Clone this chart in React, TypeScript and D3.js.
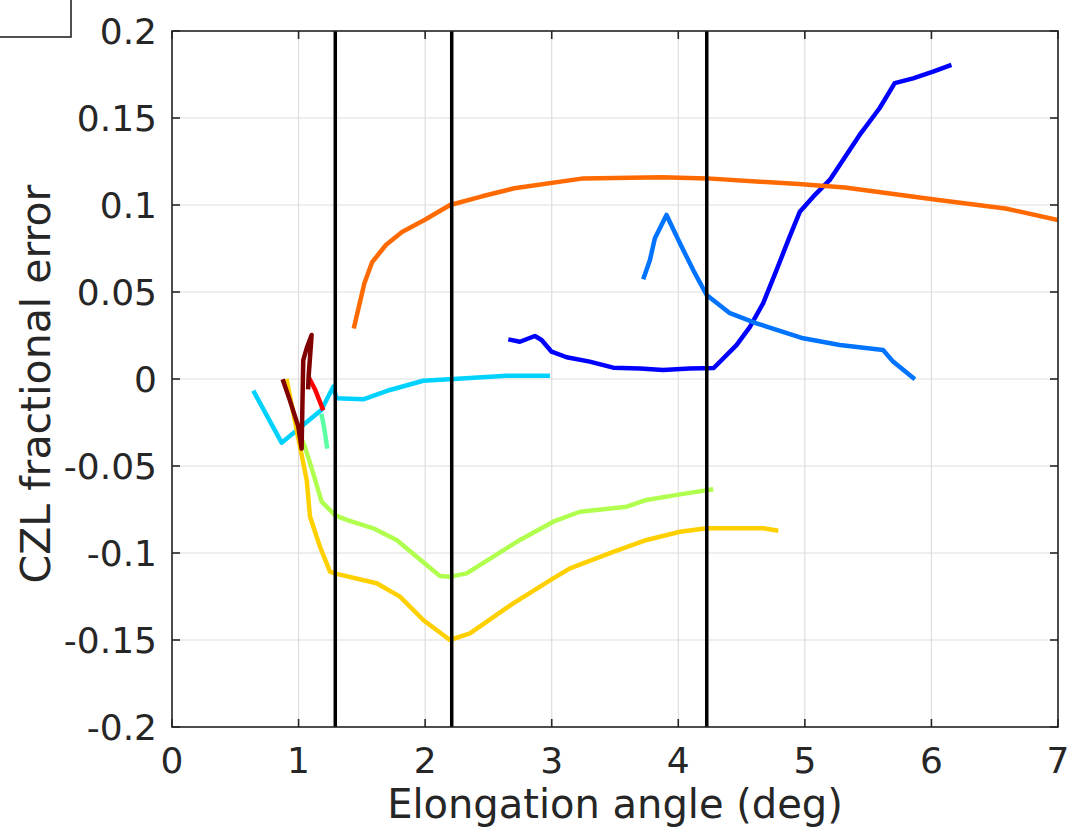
import React from "react";
import * as d3 from "d3";

// Axis setup
const xTicks = [0, 1, 2, 3, 4, 5, 6, 7];
const yTicks = [-0.2, -0.15, -0.1, -0.05, 0, 0.05, 0.1, 0.15, 0.2];
const yTickLabels = ["-0.2", "-0.15", "-0.1", "-0.05", "0", "0.05", "0.1", "0.15", "0.2"];
const xLabel = "Elongation angle (deg)";
const yLabel = "CZL fractional error";

// Reference elongation angles (vertical markers)
const markerAngles = [1.29, 2.21, 4.225];

// Series: [elongation angle, fractional error]
const blueSeries: [number, number][] = [
  [2.657, 0.0228], [2.749, 0.0214], [2.867, 0.0247], [2.92, 0.0224], [2.999, 0.0157],
  [3.118, 0.0125], [3.3, 0.01], [3.486, 0.0065], [3.697, 0.0061], [3.88, 0.0052],
  [4.09, 0.0061], [4.28, 0.0063], [4.46, 0.0195], [4.566, 0.03], [4.67, 0.0435],
  [4.776, 0.0626], [4.88, 0.0818], [4.96, 0.0961], [5.066, 0.1048], [5.197, 0.1144],
  [5.43, 0.14], [5.59, 0.1556], [5.71, 0.17], [5.855, 0.1728], [6.013, 0.1766],
  [6.158, 0.1805],
];
const azureSeries: [number, number][] = [
  [3.723, 0.0573], [3.776, 0.0684], [3.815, 0.0809], [3.907, 0.0943], [4.013, 0.078],
  [4.118, 0.0626], [4.224, 0.0483], [4.408, 0.0378], [4.618, 0.032], [4.987, 0.0234],
  [5.276, 0.0195], [5.618, 0.0167], [5.697, 0.01], [5.869, -0.0002],
];
const cyanSeries: [number, number][] = [
  [0.642, -0.0067], [0.866, -0.0366], [0.972, -0.0303], [1.18, -0.0178], [1.274, -0.0044],
  [1.3, -0.0111], [1.511, -0.0117], [1.722, -0.0063], [1.985, -0.001], [2.222, 0.0],
  [2.644, 0.0019], [2.986, 0.0019],
];
const aquaSeries: [number, number][] = [
  [1.18, -0.02], [1.2, -0.027], [1.227, -0.04],
];
const limeSeries: [number, number][] = [
  [1.0, -0.03], [1.05, -0.039], [1.116, -0.0542], [1.182, -0.0705], [1.287, -0.0782],
  [1.38, -0.081], [1.59, -0.0858], [1.775, -0.0925], [1.933, -0.1021], [2.117, -0.1132],
  [2.196, -0.1136], [2.328, -0.1117], [2.749, -0.0925], [3.012, -0.082], [3.223, -0.0763],
  [3.592, -0.0734], [3.75, -0.0695], [4.013, -0.0663], [4.276, -0.0634],
];
const goldSeries: [number, number][] = [
  [0.905, 0.0], [1.011, -0.0389], [1.064, -0.058], [1.09, -0.079], [1.169, -0.0964],
  [1.248, -0.1107], [1.301, -0.112], [1.617, -0.1174], [1.801, -0.1251], [1.985, -0.1385],
  [2.196, -0.15], [2.354, -0.1462], [2.696, -0.1289], [3.012, -0.1146], [3.144, -0.1088],
  [3.486, -0.0993], [3.75, -0.0925], [4.013, -0.0878], [4.224, -0.0858], [4.671, -0.0858],
  [4.79, -0.0872],
];
const orangeSeries: [number, number][] = [
  [1.436, 0.029], [1.52, 0.055], [1.58, 0.067], [1.69, 0.077], [1.817, 0.0845], [1.998, 0.0915],
  [2.197, 0.1], [2.45, 0.105], [2.705, 0.1096], [3.249, 0.1153], [3.866, 0.1159], [4.228, 0.1153],
  [4.95, 0.112], [5.316, 0.11], [6.04, 0.103], [6.585, 0.098], [7.0, 0.0914],
];
const redSeries: [number, number][] = [
  [1.08, 0.001], [1.13, -0.006], [1.195, -0.018],
];
const maroonSeries: [number, number][] = [
  [0.874, -0.0002], [0.93, -0.012], [0.998, -0.0274], [1.024, -0.04], [1.037, 0.0109],
  [1.064, 0.0176], [1.103, 0.0253], [1.08, 0.002], [1.075, -0.006],
];

const seriesList: { data: [number, number][]; color: string }[] = [
  { data: blueSeries, color: "#0000FF" },
  { data: azureSeries, color: "#0073FF" },
  { data: cyanSeries, color: "#00D2FF" },
  { data: aquaSeries, color: "#5CFFA3" },
  { data: limeSeries, color: "#B0FF4F" },
  { data: goldSeries, color: "#FFD000" },
  { data: orangeSeries, color: "#FF6A00" },
  { data: redSeries, color: "#FF0000" },
  { data: maroonSeries, color: "#800000" },
];

const W = 1070;
const H = 833;
const plot = { left: 172, right: 1058, top: 31, bottom: 727 };
const axisColor = "#262626";
const gridColor = "#DEDEDE";
const font = "'DejaVu Sans', sans-serif";

export default function App() {
  const x = d3.scaleLinear().domain([0, 7]).range([plot.left, plot.right]);
  const y = d3.scaleLinear().domain([-0.2, 0.2]).range([plot.bottom, plot.top]);
  const line = d3
    .line<[number, number]>()
    .x((d) => x(d[0]))
    .y((d) => y(d[1]));
  const tickLen = 8;

  return (
    <svg
      width={W}
      height={H}
      style={{ position: "absolute", left: 0, top: 0, background: "#fff" }}
    >
      <rect x={0} y={0} width={W} height={H} fill="#fff" />
      {/* grid */}
      {xTicks.map((t) => (
        <line key={"gx" + t} x1={x(t)} x2={x(t)} y1={plot.top} y2={plot.bottom} stroke={gridColor} strokeWidth={1.2} />
      ))}
      {yTicks.map((t) => (
        <line key={"gy" + t} x1={plot.left} x2={plot.right} y1={y(t)} y2={y(t)} stroke={gridColor} strokeWidth={1.2} />
      ))}

      {/* data series */}
      <g clipPath="url(#plotClip)">
        {seriesList.map((s, i) => (
          <path
            key={"s" + i}
            d={line(s.data) || ""}
            fill="none"
            stroke={s.color}
            strokeWidth={4.5}
            strokeLinejoin="round"
            strokeLinecap="butt"
          />
        ))}
        {markerAngles.map((a) => (
          <line key={"m" + a} x1={x(a)} x2={x(a)} y1={y(0.2)} y2={y(-0.2)} stroke="#000" strokeWidth={3.5} />
        ))}
      </g>
      <defs>
        <clipPath id="plotClip">
          <rect x={plot.left} y={plot.top} width={plot.right - plot.left} height={plot.bottom - plot.top} />
        </clipPath>
      </defs>

      {/* axes box and ticks */}
      <rect
        x={plot.left}
        y={plot.top}
        width={plot.right - plot.left}
        height={plot.bottom - plot.top}
        fill="none"
        stroke={axisColor}
        strokeWidth={1.6}
      />
      {xTicks.map((t) => (
        <g key={"xt" + t}>
          <line x1={x(t)} x2={x(t)} y1={plot.bottom} y2={plot.bottom - tickLen} stroke={axisColor} strokeWidth={1.6} />
          <line x1={x(t)} x2={x(t)} y1={plot.top} y2={plot.top + tickLen} stroke={axisColor} strokeWidth={1.6} />
          <text
            x={x(t)}
            y={plot.bottom + 46}
            textAnchor="middle"
            fontFamily={font}
            fontSize={36}
            fill={axisColor}
          >
            {t}
          </text>
        </g>
      ))}
      {yTicks.map((t, i) => (
        <g key={"yt" + t}>
          <line x1={plot.left} x2={plot.left + tickLen} y1={y(t)} y2={y(t)} stroke={axisColor} strokeWidth={1.6} />
          <line x1={plot.right} x2={plot.right - tickLen} y1={y(t)} y2={y(t)} stroke={axisColor} strokeWidth={1.6} />
          <text
            x={plot.left - 15}
            y={y(t)}
            dy="0.36em"
            textAnchor="end"
            fontFamily={font}
            fontSize={36}
            fill={axisColor}
          >
            {yTickLabels[i]}
          </text>
        </g>
      ))}

      {/* axis labels */}
      <text
        x={(plot.left + plot.right) / 2}
        y={818}
        textAnchor="middle"
        fontFamily={font}
        fontSize={40}
        fill={axisColor}
      >
        {xLabel}
      </text>
      <text
        transform={`translate(50, ${(plot.top + plot.bottom) / 2 + 5}) rotate(-90)`}
        textAnchor="middle"
        fontFamily={font}
        fontSize={41}
        fill={axisColor}
      >
        {yLabel}
      </text>

      {/* legend frame at the corner */}
      <rect x={-4} y={-4} width={75} height={41} fill="#fff" stroke={axisColor} strokeWidth={1.6} />
    </svg>
  );
}
